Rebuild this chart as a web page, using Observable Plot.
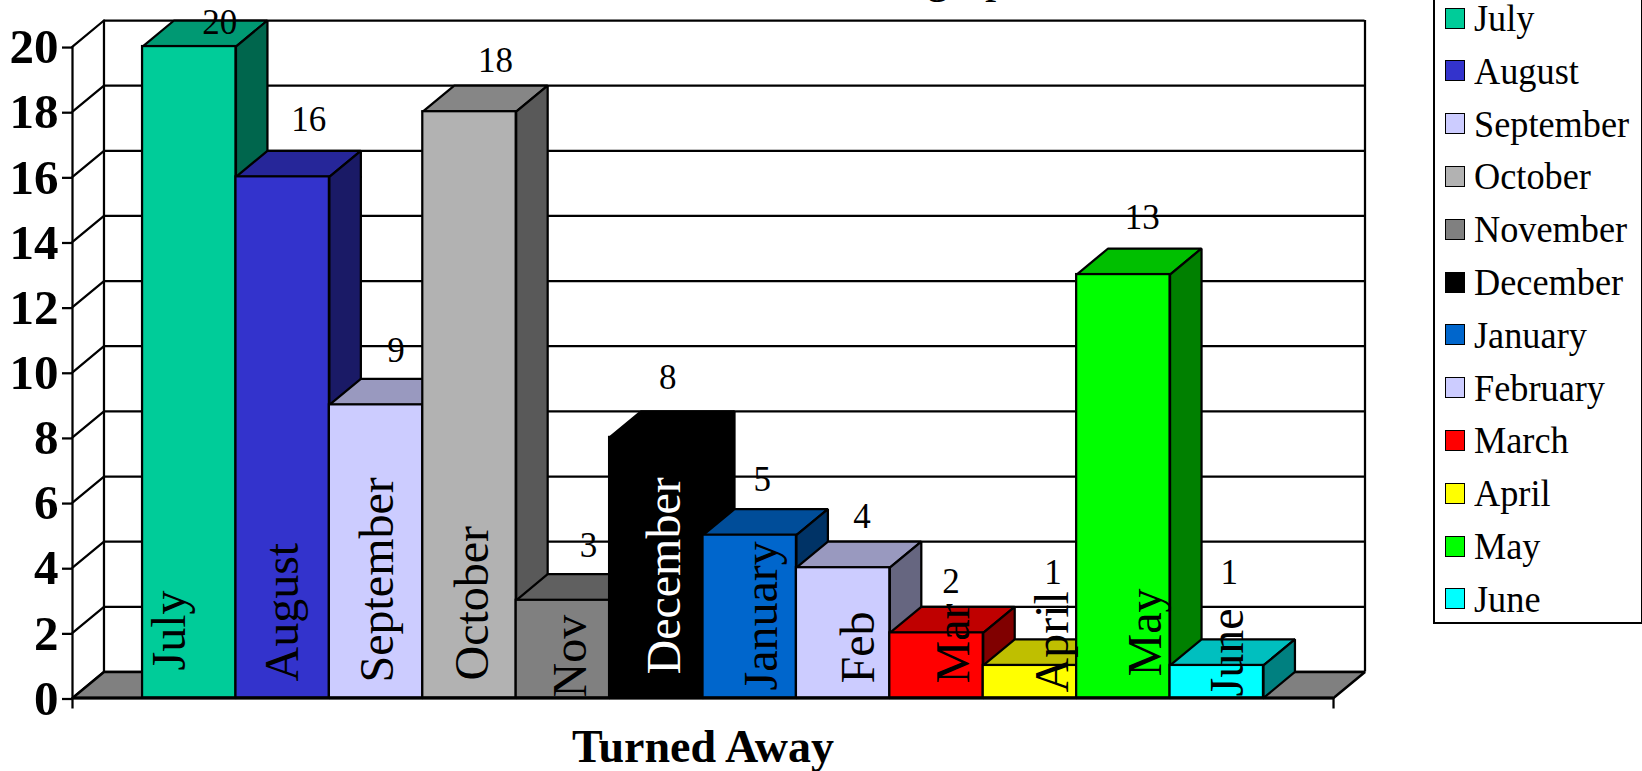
<!DOCTYPE html>
<html>
<head>
<meta charset="utf-8">
<script src="https://cdn.jsdelivr.net/npm/d3@7"></script>
<script src="https://cdn.jsdelivr.net/npm/@observablehq/plot@0.6"></script>
<style>
  html, body { margin: 0; padding: 0; background: #fff; overflow: hidden; }
  #chart { position: relative; width: 1642px; height: 771px; overflow: hidden; font-family: "Liberation Serif", serif; }
  #legend { position: absolute; left: 1433px; top: -10px; width: 206px; height: 630px; border: 2px solid #000; box-sizing: content-box; }
  #legend .row { position: absolute; left: 10px; height: 0; display: flex; align-items: center; font-size: 38px; color: #000; white-space: nowrap; }
  #legend .swatch { width: 18px; height: 19px; border: 1.75px solid #000; margin-right: 9px; flex: none; }
  #legend .name { display: inline-block; transform: scaleX(0.955); transform-origin: left center; }
</style>
</head>
<body>
<div id="chart"></div>
<script>
// Monthly "Turned Away" counts, one bar per month.
const months = ["July", "August", "September", "October", "November", "December", "January", "February", "March", "April", "May", "June"];
const counts = [20, 16, 9, 18, 3, 8, 5, 4, 2, 1, 13, 1];
const barLabels = ["July", "August", "September", "October", "Nov", "December", "January", "Feb", "Mar", "April", "May", "June"];
const barColors = ["#00CC99", "#3333CC", "#CCCCFF", "#B2B2B2", "#808080", "#000000", "#0066CC", "#CCCCFF", "#FF0000", "#FFFF00", "#00FF00", "#00FFFF"];
const barLabelColors = ["#000", "#000", "#000", "#000", "#000", "#fff", "#000", "#000", "#000", "#000", "#000", "#000"];
const yTicks = [0, 2, 4, 6, 8, 10, 12, 14, 16, 18, 20];

// Hand-placed label offsets, in pixels from the bar they belong to.
const countShiftX = [30.5, 26, 20, 26, 25.5, 11.5, 12.5, 19, 14.5, 23, 19, 12.5];
const countShiftY = [-12.5, -45.5, -42.5, -39.5, -43.5, -48.5, -44.5, -39.5, -39.5, -81.5, -45.5, -81.5];
const nameShiftX = [-4.5, 15, 16.5, 19, 23.5, 23.5, 27, 30.5, 32, 38.5, 38, 26.5];
const nameShiftY = [27.5, 16.5, 15.5, 17.5, 0.5, 23.5, 7.5, 14.5, 14.5, 5.5, 21.5, 1.5];

// The 3D box: how far the back wall sits behind the front plane, in scale units.
const depthX = 0.337;
const depthY = 0.8;
const floorLeft = -0.75;
const floorRight = 12.75;
const yMax = 20;

const serif = "Liberation Serif";
const nameSize = 48;
const countSize = 35;
const lineWidth = 2.25;

// Darken a colour for the shaded faces of a bar.
const shade = (color, k) => {
  const c = d3.rgb(color);
  return d3.rgb(c.r * k, c.g * k, c.b * k).formatHex();
};

// A closed four-sided face, as a list of points in data space.
const face = (points) => [...points, points[0]].map(([x, y]) => ({x, y}));

const polygon = (points, fill, strokeWidth = lineWidth) =>
  Plot.line(face(points), {x: "x", y: "y", fill, stroke: "#000", strokeWidth, strokeLinejoin: "miter", curve: "linear"});

// Each bar paints its top, side and front, so the next bar overlaps the shaded faces.
const barMarks = months.flatMap((month, i) => {
  const x0 = i, x1 = i + 1, v = counts[i], c = barColors[i];
  return [
    polygon([[x0, v], [x1, v], [x1 + depthX, v + depthY], [x0 + depthX, v + depthY]], shade(c, 0.75)),
    polygon([[x1, 0], [x1 + depthX, depthY], [x1 + depthX, v + depthY], [x1, v]], shade(c, 0.5)),
    Plot.rect([{x0, x1, v}], {x1: "x0", x2: "x1", y1: 0, y2: "v", fill: c, stroke: "#000", strokeWidth: lineWidth})
  ];
});

const wallMarks = [
  // back wall gridlines and the diagonals on the left wall
  Plot.ruleY(yTicks, {y: (d) => d + depthY, x1: floorLeft + depthX, x2: floorRight + depthX, stroke: "#000", strokeWidth: lineWidth, strokeOpacity: 1}),
  ...yTicks.map((t) => Plot.line([{x: floorLeft, y: t}, {x: floorLeft + depthX, y: t + depthY}], {x: "x", y: "y", stroke: "#000", strokeWidth: lineWidth})),
  Plot.ruleX([floorLeft + depthX, floorRight + depthX], {y1: depthY, y2: yMax + depthY, stroke: "#000", strokeWidth: lineWidth}),
  Plot.ruleX([floorLeft], {y1: 0, y2: yMax, stroke: "#000", strokeWidth: lineWidth}),
  // floor
  polygon([[floorLeft, 0], [floorRight, 0], [floorRight + depthX, depthY], [floorLeft + depthX, depthY]], "#808080", 2.5)
];

const nameMarks = barLabels.map((name, i) =>
  Plot.text([name], {
    x: i + 0.5, y: 0, text: (d) => d, rotate: -90,
    textAnchor: "start", lineAnchor: "bottom",
    dx: nameShiftX[i],
    dy: -nameShiftY[i],
    fontSize: nameSize, fontFamily: serif, fill: barLabelColors[i]
  })
);

const countMarks = counts.map((count, i) =>
  Plot.text([count], {
    x: i + 0.5, y: count, text: (d) => String(d),
    textAnchor: "middle", lineAnchor: "bottom",
    dx: countShiftX[i],
    dy: countShiftY[i],
    fontSize: countSize, fontFamily: serif, fill: "#000"
  })
);

const plot = Plot.plot({
  width: 1642,
  height: 771,
  marginLeft: 72,
  marginRight: 277.5,
  marginTop: 20,
  marginBottom: 73.5,
  x: {domain: [floorLeft, floorRight + depthX], axis: null},
  y: {domain: [0, yMax + depthY]},
  style: {background: "#fff", fontFamily: serif, overflow: "hidden"},
  marks: [
    ...wallMarks,
    ...barMarks,
    // front edge of the floor with its end ticks
    Plot.ruleY([0], {x1: floorLeft, x2: floorRight, stroke: "#000", strokeWidth: 3}),
    Plot.ruleX([floorLeft, floorRight], {y: 0, y1: 0, y2: 0, stroke: "#000", strokeWidth: lineWidth, insetBottom: -11}),
    Plot.axisY(yTicks, {
      anchor: "left", label: null, tickSize: 10, tickPadding: 4,
      fontSize: 49, fontWeight: "bold", fontFamily: serif,
      color: "#000", strokeWidth: lineWidth, dy: 1,
      tickFormat: (d) => String(d)
    }),
    ...nameMarks,
    ...countMarks,
    Plot.text(["Turned Away"], {
      x: (floorLeft + floorRight) / 2, y: 0, text: (d) => d,
      textAnchor: "middle", lineAnchor: "bottom",
      dy: 64,
      fontSize: 46, fontWeight: "bold", fontFamily: serif, fill: "#000"
    }),
    // end of the chart title, running off the top of the page
    Plot.text(["graph"], {
      x: 8.95, y: yMax + depthY, text: (d) => d,
      textAnchor: "middle", lineAnchor: "bottom",
      dy: -29,
      fontSize: 46, fontFamily: serif, fill: "#000"
    })
  ]
});

const chart = document.getElementById("chart");
chart.appendChild(plot);

// Legend box, running off the top edge of the page.
const legend = d3.select(chart).append("div").attr("id", "legend");
months.forEach((month, i) => {
  const row = legend.append("div").attr("class", "row").style("top", `${26 + i * 52.8}px`);
  row.append("div").attr("class", "swatch").style("background", barColors[i]);
  row.append("span").attr("class", "name").text(month);
});
</script>
</body>
</html>
